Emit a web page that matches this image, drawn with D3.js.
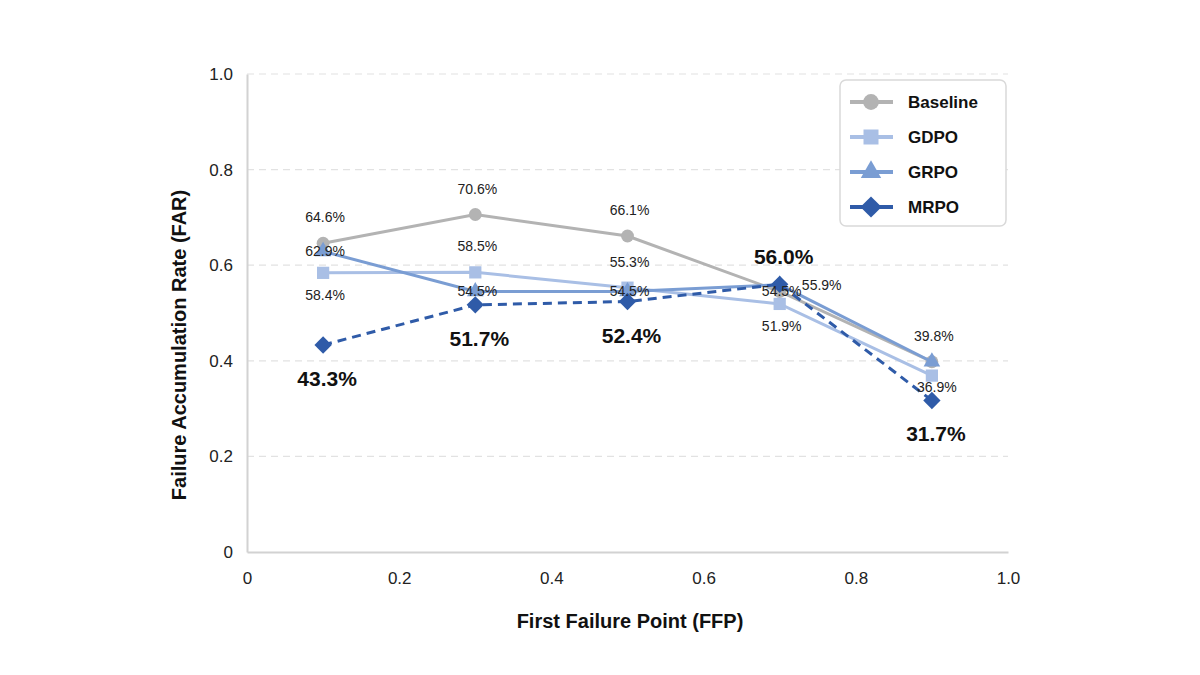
<!DOCTYPE html>
<html>
<head>
<meta charset="utf-8">
<script src="https://cdn.jsdelivr.net/npm/d3@7.9.0/dist/d3.min.js"></script>
<style>
  body { margin: 0; background: #fff; }
  svg text { font-family: "Liberation Sans", Arial, sans-serif; }
</style>
</head>
<body>
<svg width="1200" height="675"></svg>
<script>
// data
const ffp = [0.1, 0.3, 0.5, 0.7, 0.9];
const baseline = [0.646, 0.706, 0.661, 0.545, 0.398];
const gdpo = [0.584, 0.585, 0.553, 0.519, 0.369];
const grpo = [0.629, 0.545, 0.545, 0.559, 0.398];
const mrpo = [0.433, 0.517, 0.524, 0.560, 0.317];
const xTicks = [0, 0.2, 0.4, 0.6, 0.8, 1.0];
const yTicks = [0, 0.2, 0.4, 0.6, 0.8, 1.0];
// where each value label sits relative to its point
const baselineLabelPos = ['above', 'above', 'above', 'on', 'above'];
const gdpoLabelPos = ['below', 'above', 'above', 'below', 'near'];
const grpoLabelPos = ['on', 'on', 'on', 'right', 'none'];
const mrpoLabelPos = ['below', 'below', 'below', 'above', 'below'];

const series = [
  { name: 'Baseline', values: baseline, labels: baselineLabelPos, color: '#b3b3b3', shape: d3.symbolCircle, size: 130, rot: 0, dash: null, bold: false },
  { name: 'GDPO', values: gdpo, labels: gdpoLabelPos, color: '#a9bfe5', shape: d3.symbolSquare, size: 150, rot: 0, dash: null, bold: false },
  { name: 'GRPO', values: grpo, labels: grpoLabelPos, color: '#7a9dd3', shape: d3.symbolTriangle, size: 120, rot: 0, dash: null, bold: false },
  { name: 'MRPO', values: mrpo, labels: mrpoLabelPos, color: '#2f5ba8', shape: d3.symbolSquare, size: 150, rot: 45, dash: '9,6', bold: true }
];

const svg = d3.select('svg');
const x = d3.scaleLinear().domain([0, 1]).range([247, 1008]);
const y = d3.scaleLinear().domain([0, 1]).range([552, 74]);

// grid
svg.append('g').selectAll('line')
  .data(yTicks.filter(t => t > 0))
  .join('line')
  .attr('x1', x(0)).attr('x2', x(1))
  .attr('y1', d => y(d)).attr('y2', d => y(d))
  .attr('stroke', '#e2e2e2').attr('stroke-width', 1.2)
  .attr('stroke-dasharray', '7,5');

// axes
const yAxis = svg.append('g').attr('transform', `translate(${x(0)},0)`)
  .call(d3.axisLeft(y).tickValues(yTicks).tickSize(0).tickPadding(14)
    .tickFormat(d => d === 0 ? '0' : d3.format('.1f')(d)));
const xAxis = svg.append('g').attr('transform', `translate(0,${y(0)})`)
  .call(d3.axisBottom(x).tickValues(xTicks).tickSize(0).tickPadding(20)
    .tickFormat(d => d === 0 ? '0' : d3.format('.1f')(d)));
[xAxis, yAxis].forEach(a => {
  a.select('.domain').attr('stroke', '#d2d2d2').attr('stroke-width', 2);
  a.selectAll('text').attr('font-size', 17).attr('fill', '#222')
    .style('font-family', '"Liberation Sans", Arial, sans-serif');
});

svg.append('text')
  .attr('x', 630).attr('y', 628)
  .attr('text-anchor', 'middle')
  .attr('font-size', 20).attr('font-weight', 'bold').attr('fill', '#111')
  .text('First Failure Point (FFP)');
svg.append('text')
  .attr('transform', 'translate(186,345) rotate(-90)')
  .attr('text-anchor', 'middle')
  .attr('font-size', 20).attr('font-weight', 'bold').attr('fill', '#111')
  .text('Failure Accumulation Rate (FAR)');

// lines and markers
const line = d3.line().x((d, i) => x(ffp[i])).y(d => y(d));
series.forEach(s => {
  svg.append('path')
    .attr('d', line(s.values))
    .attr('fill', 'none')
    .attr('stroke', s.color)
    .attr('stroke-width', 3)
    .attr('stroke-dasharray', s.dash);
  svg.append('g').selectAll('path')
    .data(s.values)
    .join('path')
    .attr('transform', (d, i) => `translate(${x(ffp[i])},${y(d)}) rotate(${s.rot})`)
    .attr('d', d3.symbol().type(s.shape).size(s.size))
    .attr('fill', s.color);
});

// value labels
series.forEach(s => {
  s.values.forEach((v, i) => {
    const pos = s.labels[i];
    if (pos === 'none') return;
    let dx = 0, dy = 0;
    if (pos === 'above') dy = s.bold ? -20 : -21;
    if (pos === 'below') dy = s.bold ? 41 : 27;
    if (pos === 'near') { dx = 3; dy = 16; }
    if (pos === 'on') dy = 5;
    if (pos === 'right') { dx = 40; dy = 5; }
    svg.append('text')
      .attr('x', x(ffp[i]) + dx + (s.bold ? 4 : 2))
      .attr('y', y(v) + dy)
      .attr('text-anchor', 'middle')
      .attr('font-size', s.bold ? 21 : 14)
      .attr('font-weight', s.bold ? 'bold' : 'normal')
      .attr('fill', s.bold ? '#111' : '#222')
      .text(d3.format('.1%')(v));
  });
});

// legend
const legend = svg.append('g');
legend.append('rect')
  .attr('x', 840).attr('y', 80).attr('width', 166).attr('height', 146)
  .attr('rx', 6).attr('fill', '#fff').attr('stroke', '#d9d9d9').attr('stroke-width', 1.5);
series.forEach((s, i) => {
  const ly = 102 + i * 35;
  legend.append('line')
    .attr('x1', 850).attr('x2', 893).attr('y1', ly).attr('y2', ly)
    .attr('stroke', s.color).attr('stroke-width', 4);
  legend.append('path')
    .attr('transform', `translate(871,${ly}) rotate(${s.rot})`)
    .attr('d', d3.symbol().type(s.shape).size(s.size * 1.5))
    .attr('fill', s.color);
  legend.append('text')
    .attr('x', 908).attr('y', ly + 6)
    .attr('font-size', 17).attr('font-weight', 'bold').attr('fill', '#111')
    .text(s.name);
});
</script>
</body>
</html>
